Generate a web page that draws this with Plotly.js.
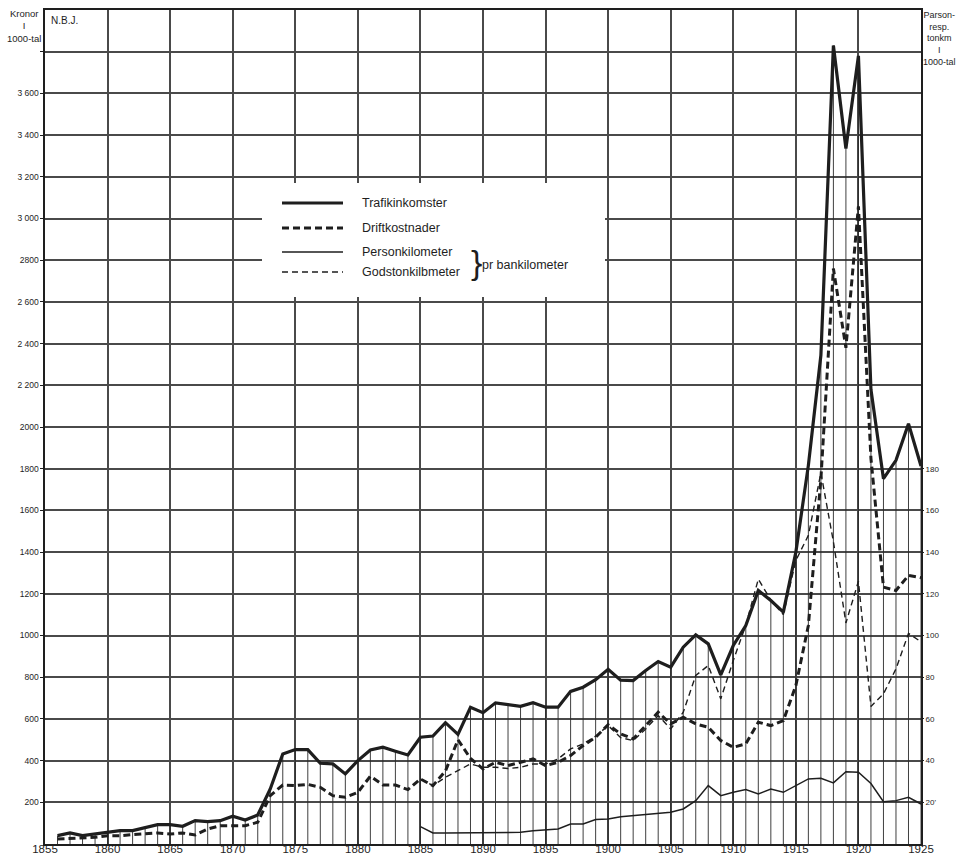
<!DOCTYPE html>
<html>
<head>
<meta charset="utf-8">
<script src="https://cdn.plot.ly/plotly-3.0.1.min.js"></script>
<style>
html,body{margin:0;padding:0;background:#fff;}
#chart{width:959px;height:858px;}
</style>
</head>
<body>
<div id="chart"></div>
<script>
// ---- data ----
const years = [1856,1857,1858,1859,1860,1861,1862,1863,1864,1865,1866,1867,1868,1869,1870,
  1871,1872,1873,1874,1875,1876,1877,1878,1879,1880,1881,1882,1883,1884,1885,
  1886,1887,1888,1889,1890,1891,1892,1893,1894,1895,1896,1897,1898,1899,1900,
  1901,1902,1903,1904,1905,1906,1907,1908,1909,1910,1911,1912,1913,1914,1915,
  1916,1917,1918,1919,1920,1921,1922,1923,1924,1925];

// Kronor, 1000-tal (left axis)
const trafikinkomster = [40,53,40,48,59,64,64,80,93,93,85,112,107,112,133,
  115,139,264,432,453,453,387,384,336,400,451,464,445,427,512,
  518,582,526,656,630,677,667,660,678,656,656,732,752,788,838,
  786,784,832,875,848,944,1003,960,811,952,1048,1216,1168,1112,1400,
  1816,2344,3830,3336,3780,2180,1752,1840,2016,1813];

const driftkostnader = [24,27,27,32,40,40,45,48,53,48,53,43,72,88,88,
  88,104,232,283,280,286,272,232,224,248,325,283,283,261,312,
  280,350,500,410,360,392,376,392,408,376,392,424,472,512,572,
  528,504,568,632,576,608,576,560,496,464,480,584,568,592,760,
  1048,1750,2760,2380,3058,1850,1232,1216,1288,1277];

// per bankilometer, 1000-tal (right axis), from 1885
const years2 = [1885,1886,1887,1888,1889,1890,1891,1892,1893,1894,1895,1896,1897,1898,1899,1900,
  1901,1902,1903,1904,1905,1906,1907,1908,1909,1910,1911,1912,1913,1914,1915,
  1916,1917,1918,1919,1920,1921,1922,1923,1924,1925];
const personkilometer = [8.3,5.3,5.3,5.3,5.3,5.4,5.4,5.5,5.6,6.4,6.9,7.2,9.6,9.6,11.7,12.0,
  13.1,13.6,14.0,14.4,15.2,16.8,20.8,28.0,23.2,24.8,26.1,24.0,26.4,24.8,28.0,
  31.2,31.5,29.3,34.7,34.4,29.0,20.3,20.8,22.4,19.2];
const godstonkilometer = [31.2,28.0,32.0,35.2,38.4,36.8,36.8,36.2,36.8,38.4,38.4,40.8,45.6,48.0,51.7,56.8,
  51.0,49.6,55.2,61.6,55.2,63.2,80.8,85.6,69.6,88.0,105,127,117,110,136,
  148,178,145,106,126,66,72,84,101,97];

const xTicks = [1855,1860,1865,1870,1875,1880,1885,1890,1895,1900,1905,1910,1915,1920,1925];
const yTicks = [200,400,600,800,1000,1200,1400,1600,1800,2000,2200,2400,2600,2800,3000,3200,3400,3600];
const yTickText = ["200","400","600","800","1000","1200","1400","1600","1800","2000","2 200","2 400","2 600","2800","3 000","3 200","3 400","3 600"];
const y2Ticks = [20,40,60,80,100,120,140,160,180];
const y2TickText = ["20'","40","60","80","100","120","140","160","180"];

const legendNames = ["Trafikinkomster","Driftkostnader","Personkilometer","Godstonkilbmeter"];

// ---- build ----
const ink = "#1e1e1e";
const gridInk = "#4a4a4a";
const font = "Liberation Sans, Arial, sans-serif";

const dropX = [], dropY = [];
years.forEach((yr,i)=>{ dropX.push(yr,yr,null); dropY.push(0,trafikinkomster[i],null); });

const traces = [
  {x:dropX, y:dropY, mode:"lines", line:{color:"#2a2a2a", width:0.9}, hoverinfo:"skip", showlegend:false},
  {x:years2, y:godstonkilometer, yaxis:"y2", mode:"lines", name:legendNames[3],
   line:{color:ink, width:1.4, dash:"6px,4px"}, showlegend:false},
  {x:years2, y:personkilometer, yaxis:"y2", mode:"lines", name:legendNames[2],
   line:{color:ink, width:1.5}, showlegend:false},
  {x:years, y:driftkostnader, mode:"lines", name:legendNames[1],
   line:{color:ink, width:3, dash:"7px,4px"}, showlegend:false},
  {x:years, y:trafikinkomster, mode:"lines", name:legendNames[0],
   line:{color:ink, width:3.2}, showlegend:false}
];

// pixel -> paper helpers for the hand-drawn legend and side labels
const L=45, R=921, T=10, B=844;
const px = v => (v-L)/(R-L);
const py = v => (B-v)/(B-T);

const shapes = [
  {type:"rect", xref:"paper", yref:"paper", x0:px(262), x1:px(605), y0:py(297), y1:py(183),
   fillcolor:"#fff", line:{width:0}, layer:"above"}
];
const rows = [203,228,252,272];
const styles = [{width:3.2},{width:3,dash:"7px,4px"},{width:1.5},{width:1.4,dash:"6px,4px"}];
rows.forEach((r,i)=>{
  shapes.push({type:"line", xref:"paper", yref:"paper", x0:px(282), x1:px(343), y0:py(r), y1:py(r),
    line:Object.assign({color:ink}, styles[i]), layer:"above"});
});

const annotations = [];
rows.forEach((r,i)=>{
  annotations.push({xref:"paper", yref:"paper", x:px(360), y:py(r), xanchor:"left", yanchor:"middle",
    text:legendNames[i], showarrow:false, font:{family:font, size:12.5, color:ink}});
});
annotations.push({xref:"paper", yref:"paper", x:px(469), y:py(262), xanchor:"left", yanchor:"middle",
  text:"}", showarrow:false, font:{family:font, size:34, color:ink}});
annotations.push({xref:"paper", yref:"paper", x:px(480), y:py(265), xanchor:"left", yanchor:"middle",
  text:"pr bankilometer", showarrow:false, font:{family:font, size:12.5, color:ink}});
annotations.push({xref:"paper", yref:"paper", x:px(49), y:py(20), xanchor:"left", yanchor:"middle",
  text:"N.B.J.", showarrow:false, font:{family:font, size:10, color:ink}});
annotations.push({xref:"paper", yref:"paper", x:px(24), y:py(6), xanchor:"center", yanchor:"top",
  text:"Kronor<br>I<br>1000-tal", showarrow:false, align:"center",
  font:{family:font, size:9.5, color:ink}});
annotations.push({xref:"paper", yref:"paper", x:px(939), y:py(8), xanchor:"center", yanchor:"top",
  text:"Parson-<br>resp.<br>tonkm<br>I<br>1000-tal", showarrow:false, align:"center",
  font:{family:font, size:9, color:ink}});

const layout = {
  width:959, height:858,
  margin:{l:L, r:959-R, t:T, b:858-B},
  paper_bgcolor:"#fff", plot_bgcolor:"#fff",
  showlegend:false,
  font:{family:font, color:ink},
  xaxis:{range:[1855,1925], tickvals:xTicks, ticktext:xTicks.map(String),
    showgrid:true, gridcolor:gridInk, gridwidth:2, zeroline:false,
    showline:true, linecolor:ink, linewidth:1.6, mirror:true,
    ticks:"", ticklabelstandoff:-6, tickfont:{family:font, size:11.5, color:ink}},
  yaxis:{range:[0,4000], tickvals:yTicks.concat([3800]), ticktext:yTickText.concat([""]),
    showgrid:true, gridcolor:gridInk, gridwidth:2, zeroline:false,
    showline:true, linecolor:ink, linewidth:1.6, mirror:true,
    ticks:"outside", ticklen:3, tickcolor:ink, tickfont:{family:font, size:8.5, color:ink}},
  yaxis2:{range:[0,400], overlaying:"y", side:"right", tickvals:y2Ticks, ticktext:y2TickText,
    showgrid:false, zeroline:false, showline:false,
    ticks:"outside", ticklen:2, tickcolor:ink, tickfont:{family:font, size:8, color:ink}},
  shapes:shapes,
  annotations:annotations
};

Plotly.newPlot("chart", traces, layout, {displayModeBar:false, staticPlot:true});
</script>
</body>
</html>
